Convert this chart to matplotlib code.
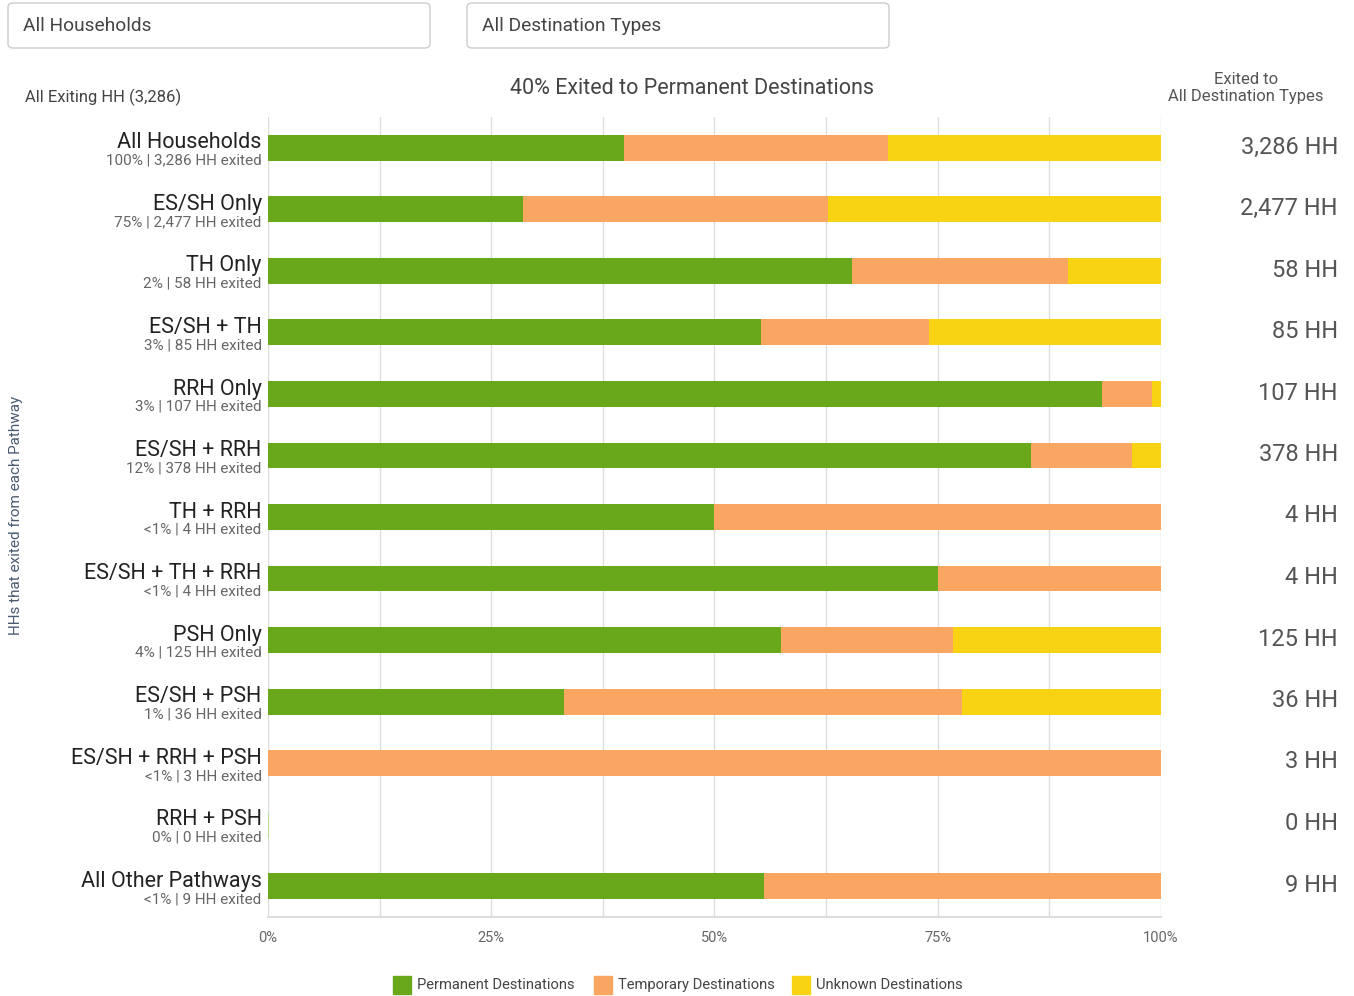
import matplotlib.pyplot as plt
from matplotlib.patches import FancyBboxPatch
import numpy as np

plt.rcParams['font.family'] = ['Roboto', 'DejaVu Sans']

# Pathways and their exit data
pathways = ['All Households', 'ES/SH Only', 'TH Only', 'ES/SH + TH', 'RRH Only',
            'ES/SH + RRH', 'TH + RRH', 'ES/SH + TH + RRH', 'PSH Only', 'ES/SH + PSH',
            'ES/SH + RRH + PSH', 'RRH + PSH', 'All Other Pathways']
sub_labels = ['100% | 3,286 HH exited', '75% | 2,477 HH exited', '2% | 58 HH exited',
              '3% | 85 HH exited', '3% | 107 HH exited', '12% | 378 HH exited',
              '<1% | 4 HH exited', '<1% | 4 HH exited', '4% | 125 HH exited',
              '1% | 36 HH exited', '<1% | 3 HH exited', '0% | 0 HH exited',
              '<1% | 9 HH exited']
hh_totals = ['3,286 HH', '2,477 HH', '58 HH', '85 HH', '107 HH', '378 HH', '4 HH',
             '4 HH', '125 HH', '36 HH', '3 HH', '0 HH', '9 HH']
permanent = [39.9, 28.6, 65.4, 55.2, 93.4, 85.4, 50.0, 75.0, 57.5, 33.2, 0.0, 0.0, 55.5]
temporary = [29.5, 34.1, 24.2, 18.8, 5.6, 11.3, 50.0, 25.0, 19.2, 44.5, 100.0, 0.0, 44.5]
unknown = [30.6, 37.3, 10.4, 26.0, 1.0, 3.3, 0.0, 0.0, 23.3, 22.3, 0.0, 0.0, 0.0]

green = '#6aa81b'
orange = '#f8a662'
yellow = '#f8d314'

W, H = 1354, 996
fig = plt.figure(figsize=(W / 100, H / 100), dpi=100)
ax = fig.add_axes([268 / W, 1 - 917 / H, (1161 - 268) / W, (917 - 117) / H])

y = np.arange(len(pathways))
perm = np.array(permanent)
temp = np.array(temporary)
unk = np.array(unknown)
bh = 0.42
ax.barh(y, perm, height=bh, color=green, linewidth=0)
ax.barh(y, temp, left=perm, height=bh, color=orange, linewidth=0)
ax.barh(y, unk, left=perm + temp, height=bh, color=yellow, linewidth=0)
# zero-value rows still show a hairline of green at the start
for i in range(len(pathways)):
    if perm[i] + temp[i] + unk[i] == 0:
        ax.barh(y[i], perm[i], height=bh, color=green, edgecolor='#b5dc8a', linewidth=1.2)

ax.set_xlim(0, 100)
ax.set_ylim(len(pathways) - 0.5, -0.5)
ax.set_xticks(np.arange(0, 100.1, 12.5))
ax.set_xticklabels(['0%', '', '25%', '', '50%', '', '75%', '', '100%'])
ax.tick_params(axis='x', length=0, pad=10, labelsize=10.5, labelcolor='#666666')
ax.set_yticks([])
ax.grid(axis='x', color='#dddddd', linewidth=1)
ax.set_axisbelow(True)
for s in ['top', 'right', 'left']:
    ax.spines[s].set_visible(False)
ax.spines['bottom'].set_color('#dddddd')
ax.spines['bottom'].set_linewidth(1.5)

# row labels and totals
for i in range(len(pathways)):
    ax.text(-0.7, y[i] + 0.01, pathways[i], ha='right', va='baseline', fontsize=15.5,
            color='#222222')
    ax.text(-0.7, y[i] + 0.21, sub_labels[i], ha='right', va='center', fontsize=11,
            color='#666666')
    ax.text(1338 / W, 1 - (147 + i * 61.5) / H, hh_totals[i], transform=fig.transFigure,
            ha='right', va='center', fontsize=17, color='#555555')

# headers
fig.text(25 / W, 1 - 97 / H, 'All Exiting HH (3,286)', ha='left', va='center',
         fontsize=12, color='#444444')
fig.text(692 / W, 1 - 88 / H, '40% Exited to Permanent Destinations', ha='center',
         va='center', fontsize=15.5, color='#444444')
fig.text(1246 / W, 1 - 88 / H, 'Exited to\nAll Destination Types', ha='center',
         va='center', fontsize=12, color='#555555', linespacing=1.1)
fig.text(16 / W, 1 - 515 / H, 'HHs that exited from each Pathway', rotation=90,
         ha='center', va='center', fontsize=11, color='#4a5a70')

# dropdown boxes
for x0, x1, label in [(8, 430, 'All Households'), (467, 889, 'All Destination Types')]:
    box = FancyBboxPatch((x0 / W, 1 - 48 / H), (x1 - x0) / W, 45 / H,
                         boxstyle='round,pad=0,rounding_size=0.004',
                         transform=fig.transFigure, facecolor='white',
                         edgecolor='#cccccc', linewidth=1)
    fig.patches.append(box)
    fig.text((x0 + 15) / W, 1 - 26 / H, label, ha='left', va='center', fontsize=13.75,
             color='#444444')

# legend
leg_items = [(393, green, 'Permanent Destinations'), (594, orange, 'Temporary Destinations'),
             (792, yellow, 'Unknown Destinations')]
for x0, c, label in leg_items:
    fig.patches.append(plt.Rectangle((x0 / W, 1 - 994 / H), 18 / W, 18 / H,
                                     transform=fig.transFigure, color=c))
    fig.text((x0 + 24) / W, 1 - 985 / H, label, ha='left', va='center', fontsize=10.6,
             color='#444444')

fig.savefig('out.png', dpi=100)
